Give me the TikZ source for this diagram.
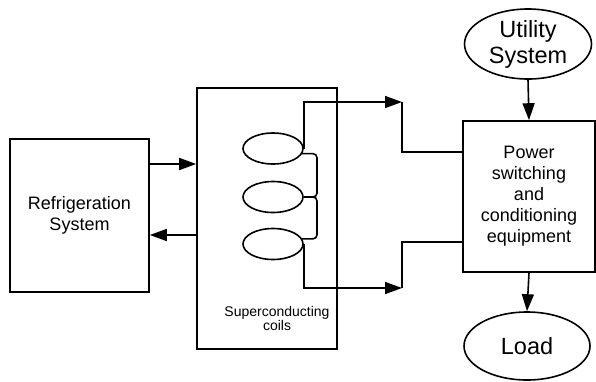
\documentclass[tikz,border=0pt]{standalone}
\usepackage{fontspec}
\setmainfont{Liberation Sans}
\usetikzlibrary{shapes.geometric,arrows.meta,calc}
\begin{document}
\begin{tikzpicture}[x=1pt,y=-1pt,line width=1.6pt,
  box/.style={draw,rectangle,inner sep=0pt,align=center},
  oval/.style={draw,ellipse,inner sep=0pt,align=center},
  arr/.style={-{Triangle[length=17pt,width=12pt]}},
  big/.style={font=\fontsize{18}{21}\selectfont},
  huge/.style={font=\fontsize{23.5}{26}\selectfont},
  small/.style={font=\fontsize{14}{14}\selectfont}]
\useasboundingbox (0,0) rectangle (596,381);
% blocks
\node[box,big,minimum width=139pt,minimum height=153pt] (rf) at (79.5,215.5) {Refrigeration\\System};
\node[box,minimum width=140pt,minimum height=261pt] (cb) at (267,218.5) {};
\node[small,align=center] (lbl) at (277,318) {Superconducting\\coils};
\node[box,big,minimum width=132pt,minimum height=151pt] (pw) at (529,196.5) {Power\\switching\\and\\conditioning\\equipment};
\node[oval,huge,minimum width=127pt,minimum height=70pt] (ut) at (528,44) {Utility\\System};
\node[oval,huge,minimum width=126pt,minimum height=68pt] (ld) at (527,346) {Load};
% coils
\node[oval,minimum width=60pt,minimum height=31pt] (c1) at (273,148.5) {};
\node[oval,minimum width=60pt,minimum height=31pt] (c2) at (273,197) {};
\node[oval,minimum width=60pt,minimum height=31pt] (c3) at (273,244) {};
\coordinate (bx) at (317,0);
\draw[rounded corners=4pt] (c1.-10) -- (c1.-10 -| bx) -- (c2.east -| bx) -- (c2.east);
\draw[rounded corners=4pt] (c2.east) -- (c2.east -| bx) -- (c3.10 -| bx) -- (c3.10);
% refrigeration arrows
\coordinate (ya) at (0,164);
\coordinate (yb) at (0,235);
\draw[arr] (rf.east |- ya) -- (cb.west |- ya);
\draw[arr] (cb.west |- yb) -- (rf.east |- yb);
% wires to power box
\coordinate (t1) at (402,102);
\coordinate (t2) at (402,288);
\coordinate (p1) at ($(pw.west)+(0,-44.5)$);
\coordinate (p2) at ($(pw.west)+(0,45.5)$);
\draw[arr] (c1.east) |- (t1);
\draw (t1) |- (p1);
\draw[arr] (c3.east) |- (t2);
\draw (t2) |- (p2);
% vertical arrows
\draw[arr] (ut.south) -- (pw.north);
\draw[arr] (pw.south) -- (ld.north);
\end{tikzpicture}
\end{document}
